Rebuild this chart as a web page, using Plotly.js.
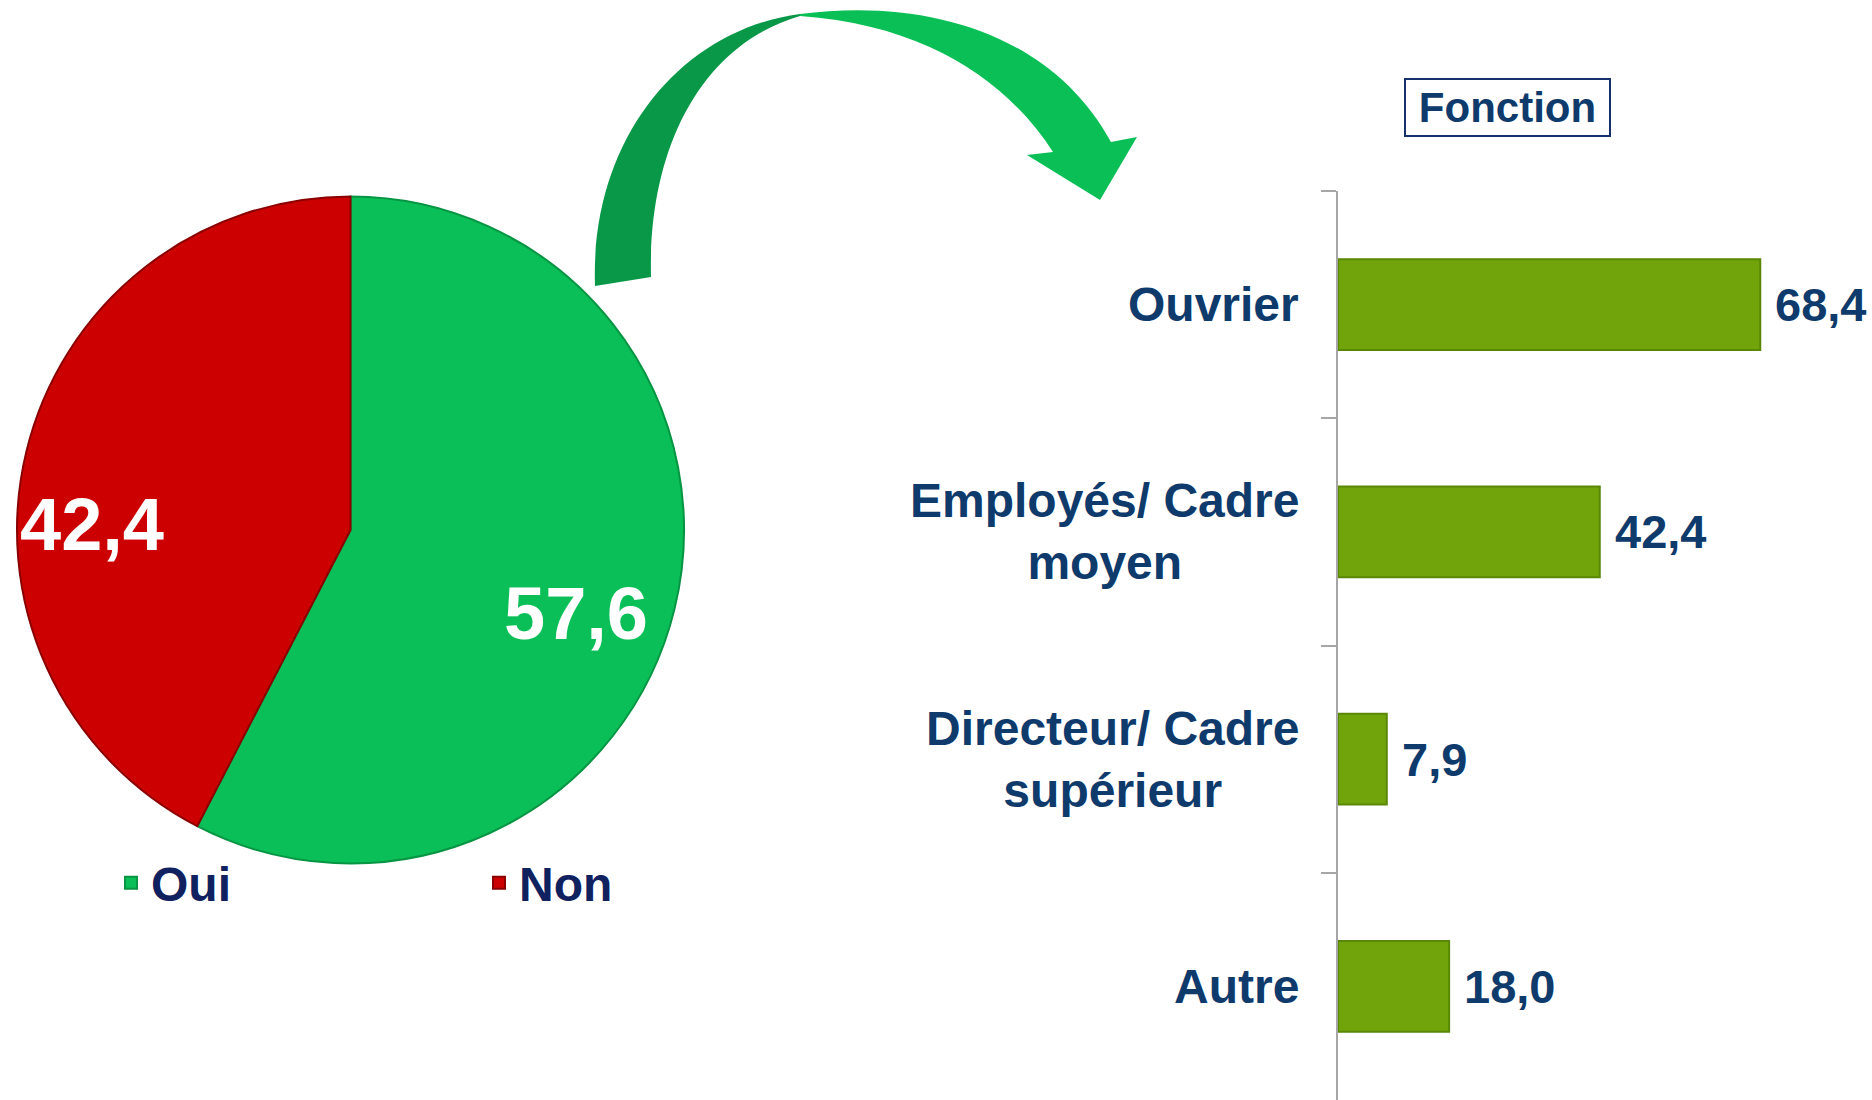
<!DOCTYPE html>
<html><head><meta charset="utf-8">
<script src="https://cdn.plot.ly/plotly-3.0.1.min.js"></script>
<style>html,body{margin:0;padding:0;background:#fff}#chart{width:1872px;height:1100px}</style>
</head><body><div id="chart"></div>
<script>
// ---- data ----
const pieLabels = ['Oui', 'Non'];
const pieValues = [57.6, 42.4];
const categories = ['Ouvrier', 'Employés/ Cadre<br>moyen', 'Directeur/ Cadre<br>supérieur', 'Autre'];
const barValues = [68.4, 42.4, 7.9, 18.0];
const barTitle = 'Fonction';

// ---- helpers ----
const W = 1872, H = 1100;
const FONT = 'Liberation Sans, Arial, Helvetica, sans-serif';
const NAVY = '#0e3a6c';
function fmt(v){ return v.toFixed(1).replace('.', ','); }
function px(x, y){ return (x/W).toFixed(5) + ',' + (1 - y/H).toFixed(5); }
function C(a, b, c){ return ' C' + px(a[0],a[1]) + ' ' + px(b[0],b[1]) + ' ' + px(c[0],c[1]); }
function L(p){ return ' L' + px(p[0], p[1]); }
function arrowShapes(){
  const tailOut = [595,286], tailIn = [651,277], T = [800,14], Ti = [800,16];
  const neckOut = [1111,142], barbR = [1137,137], tip = [1100,200], barbL = [1027,155], neckIn = [1053,152];
  const dark = 'M' + px(tailOut[0], tailOut[1]) + C([590,140],[680,30],T) + L(Ti) +
               C([700,45],[648,150],tailIn) + ' Z';
  const light = 'M' + px(T[0], T[1]) + C([920,-2],[1050,30],neckOut) + L(barbR) + L(tip) + L(barbL) + L(neckIn) +
                C([1010,85],[930,25],Ti) + ' Z';
  const shadowOff = (p) => p;
  return [
    {type:'path', xref:'paper', yref:'paper', path: dark, fillcolor:'#089848', line:{width:0}, layer:'above'},
    {type:'path', xref:'paper', yref:'paper', path: light, fillcolor:'#0abf56', line:{width:0}, layer:'above'}
  ];
}

// ---- traces ----
const pie = {
  type: 'pie', labels: pieLabels, values: pieValues, sort: false,
  direction: 'clockwise', rotation: 0,
  marker: {colors: ['#0abf57', '#cc0000'], line: {color: ['#079443', '#8a0000'], width: 2}},
  textinfo: 'none',
  domain: {x: [17/W, 684/W], y: [1 - 864/H, 1 - 196/H]},
  hoverinfo: 'label+value'
};
const bars = {
  type: 'bar', orientation: 'h', x: barValues, y: categories,
  xaxis: 'x', yaxis: 'y', width: 0.4, showlegend: false,
  marker: {color: '#71a40a', line: {color: '#5a8806', width: 2}},
  hoverinfo: 'x'
};

// ---- annotations ----
const annotations = [];
// pie value labels (positions chosen as in the reference, text from data)
const pieLabelPos = [[576/W, 1 - 613/H], [92/W, 1 - 524/H]];
pieValues.forEach((v, i) => {
  annotations.push({xref: 'paper', yref: 'paper', x: pieLabelPos[i][0], y: pieLabelPos[i][1],
    xanchor: 'center', yanchor: 'middle', text: fmt(v), showarrow: false,
    font: {family: FONT, size: 74, color: '#ffffff', weight: 700}});
});
categories.forEach((c, i) => {
  annotations.push({xref: 'paper', yref: 'y', x: 1301/W, y: i, xanchor: 'right', yanchor: 'middle',
    text: c, align: 'center', showarrow: false,
    font: {family: FONT, size: 48, color: NAVY, weight: 700}});
  annotations.push({xref: 'x', yref: 'y', x: barValues[i], y: i, xanchor: 'left', yanchor: 'middle',
    xshift: 13, text: fmt(barValues[i]), showarrow: false,
    font: {family: FONT, size: 47, color: NAVY, weight: 700}});
});
annotations.push({xref: 'paper', yref: 'paper', x: 1507.5/W, y: 1 - 107.5/H, xanchor: 'center', yanchor: 'middle',
  text: barTitle, showarrow: false, width: 199, height: 51, borderpad: 2, borderwidth: 2, bordercolor: '#15306a',
  font: {family: FONT, size: 42, color: NAVY, weight: 700}});

const layout = {
  width: W, height: H, margin: {l: 0, r: 0, t: 0, b: 0},
  paper_bgcolor: '#ffffff', plot_bgcolor: 'rgba(0,0,0,0)',
  separators: ', ',
  showlegend: true,
  legend: {orientation: 'h', x: 111/W, y: 1 - 883/H, xanchor: 'left', yanchor: 'middle',
    font: {family: FONT, size: 48, color: '#10215f', weight: 700}, entrywidth: 323,
    bgcolor: 'rgba(0,0,0,0)', itemclick: false, itemdoubleclick: false},
  xaxis: {domain: [1338/W, 1], range: [0, 86.5], visible: false, fixedrange: true},
  yaxis: {domain: [0, 1 - 191/H], type: 'category', range: [3.5, -0.5], showline: true,
    linecolor: '#a6a6a6', linewidth: 1.5, ticks: 'outside', tickson: 'boundaries', ticklen: 15,
    tickcolor: '#a6a6a6', tickwidth: 1.5, showticklabels: false, showgrid: false, zeroline: false, fixedrange: true},
  annotations: annotations,
  shapes: arrowShapes()
};

Plotly.newPlot('chart', [pie, bars], layout, {displayModeBar: false});
</script>
</body></html>
